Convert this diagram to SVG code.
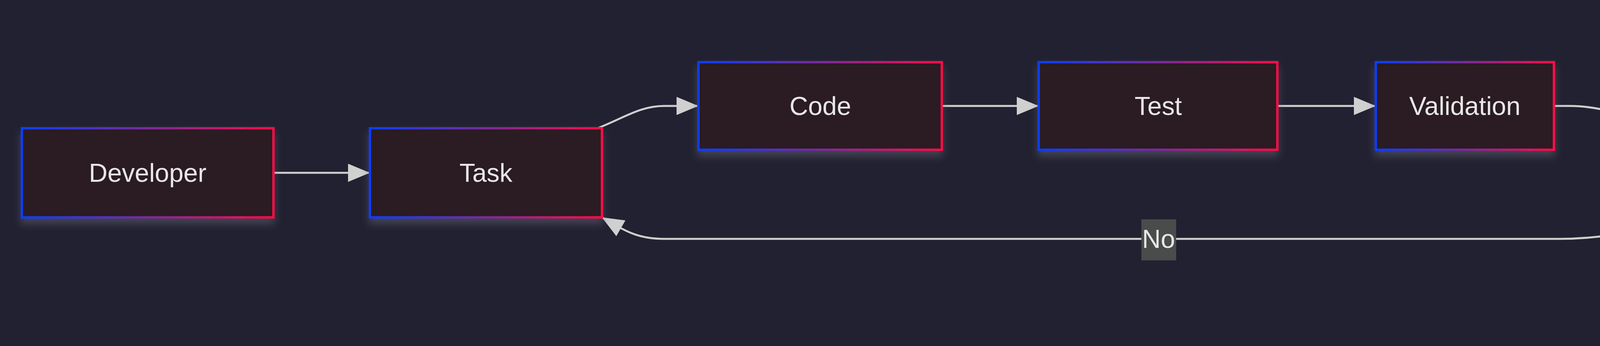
<svg xmlns="http://www.w3.org/2000/svg" width="6068" height="885" viewBox="0 0 6068 885">
<defs>
<linearGradient id="g" x1="0" y1="0" x2="1" y2="0"><stop offset="0" stop-color="#0b3dff"/><stop offset="0.5" stop-color="#7a2a9a"/><stop offset="1" stop-color="#ff0a48"/></linearGradient>
<linearGradient id="gd" x1="0" y1="0" x2="1" y2="1"><stop offset="0" stop-color="#0b3dff"/><stop offset="0.5" stop-color="#7a2a9a"/><stop offset="1" stop-color="#ff0a48"/></linearGradient>
<filter id="sh" x="-10%" y="-10%" width="120%" height="140%"><feDropShadow dx="0" dy="14" stdDeviation="10" flood-color="#6a6a7a" flood-opacity="0.45"/></filter>
<marker id="a" viewBox="0 0 12 10" refX="12" refY="5" markerUnits="userSpaceOnUse" markerWidth="56" markerHeight="58" orient="auto"><path d="M0,0L12,5L0,10z" fill="#d0d0d0"/></marker>
<style>
.n{fill:#2c1f20;stroke:url(#g);stroke-width:6;filter:url(#sh)}
.t{font-family:"Liberation Sans",Arial,sans-serif;font-size:66px;fill:#e8e6e6;text-anchor:middle;dominant-baseline:central}
.e{fill:none;stroke:#d0d0d0;stroke-width:5;marker-end:url(#a)}
.lb{fill:#4a4b4b}
</style>
</defs>
<rect width="6068" height="885" fill="#222131"/>
<g id="connectors">
<path class="e" d="M700,442H947"/>
<path class="e" d="M1530,328C1600,300 1640,271 1700,271H1788"/>
<path class="e" d="M2411,271H2659"/>
<path class="e" d="M3270,271H3522"/>
<path class="e" d="M3978,271H4020C4100,271 4180,300 4305,340"/>
<path class="e" d="M4330,542C4230,590 4100,611 3990,611H1700C1630,611 1600,590 1541,556"/>
<path class="e" d="M5031,442H5371"/>
<rect class="lb" x="2922" y="561" width="89" height="105"/>
<text class="t" x="2966" y="611">No</text>
<rect class="lb" x="5154" y="389" width="113" height="105"/>
<text class="t" x="5210" y="442">Yes</text>
</g>
<g id="developer"><rect class="n" x="56" y="328" width="644" height="228"/><text class="t" x="378" y="442">Developer</text></g>
<g id="task"><rect class="n" x="947" y="328" width="594" height="228"/><text class="t" x="1244" y="442">Task</text></g>
<g id="code"><rect class="n" x="1788" y="159" width="623" height="224"/><text class="t" x="2100" y="271">Code</text></g>
<g id="test"><rect class="n" x="2659" y="159" width="611" height="224"/><text class="t" x="2965" y="271">Test</text></g>
<g id="validation"><rect class="n" x="3522" y="159" width="456" height="224"/><text class="t" x="3750" y="271">Validation</text></g>
<g id="goal"><path class="n" style="stroke:url(#gd)" d="M4631,38L5031,442L4631,844L4230,442z"/><text class="t" x="4631" y="442">Goal</text></g>
<g id="return"><rect class="n" x="5391" y="330" width="620" height="224"/><text class="t" x="5701" y="442">Return</text></g>
</svg>
